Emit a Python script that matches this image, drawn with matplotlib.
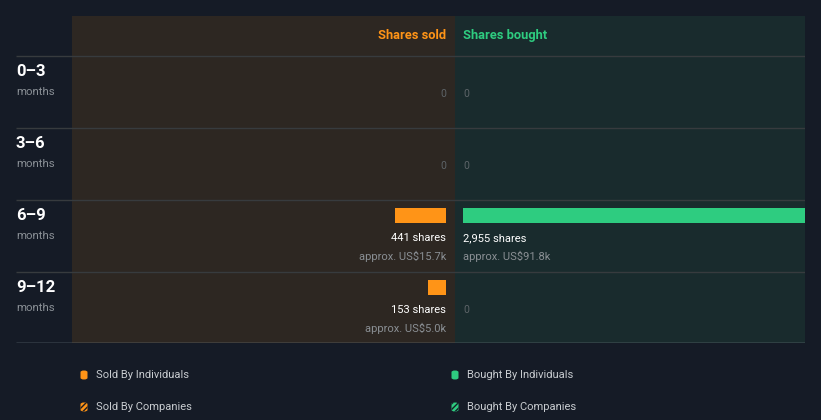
import matplotlib.pyplot as plt
import matplotlib.transforms as mtransforms
from matplotlib.patches import FancyBboxPatch

plt.rcParams['font.family'] = ['Roboto', 'DejaVu Sans']
plt.rcParams['hatch.linewidth'] = 1.0

# data
periods = ['0\u20133', '3\u20136', '6\u20139', '9\u201312']
sold = [0, 0, 441, 153]
bought = [0, 0, 2955, 0]
sold_value = ['', '', 'US$15.7k', 'US$5.0k']
bought_value = ['', '', 'US$91.8k', '']
legend_labels = ['Sold By Individuals', 'Bought By Individuals',
                 'Sold By Companies', 'Bought By Companies']

BG = '#151b26'
SOLD_BG = '#2d2722'
BOUGHT_BG = '#192b2d'
ORANGE = '#ff9417'
GREEN = '#2ecc80'
GRID = '#373b3e'

W, H = 821, 420
fig = plt.figure(figsize=(W / 100, H / 100), dpi=100, facecolor=BG)

def rect(x0, y0, x1, y1):
    return [x0 / W, 1 - y1 / H, (x1 - x0) / W, (y1 - y0) / H]

ylims = (3.986, -40 / 72)
px_scale = 2955 / 342  # shares per pixel

ax_s = fig.add_axes(rect(72, 16, 455, 343))
ax_b = fig.add_axes(rect(455, 16, 805, 343))
ax_s.set_facecolor(SOLD_BG)
ax_b.set_facecolor(BOUGHT_BG)
ax_s.set_xlim((446 - 72) * px_scale, -9 * px_scale)
ax_b.set_xlim(-8 * px_scale, 342 * px_scale)
for ax in (ax_s, ax_b):
    ax.set_ylim(*ylims)
    ax.set_xticks([])
    ax.set_yticks([])
    for sp in ax.spines.values():
        sp.set_visible(False)

ypos = [i + 15.5 / 72 for i in range(len(periods))]
ax_s.barh(ypos, sold, height=15 / 72, color=ORANGE, left=0)
ax_b.barh(ypos, bought, height=15 / 72, color=GREEN, left=0)

ax_s.text(0, -0.29, 'Shares sold', color=ORANGE, ha='right', va='center',
          fontsize=9.3, fontweight='bold')
ax_b.text(0, -0.29, 'Shares bought', color=GREEN, ha='left', va='center',
          fontsize=9.3, fontweight='bold')

for i in range(len(periods)):
    for ax, val, money, ha in ((ax_s, sold[i], sold_value[i], 'right'),
                               (ax_b, bought[i], bought_value[i], 'left')):
        if val == 0:
            ax.text(0, i + 0.53, '0', color='#5d6468', ha=ha, va='center', fontsize=7.5)
        else:
            ax.text(0, i + 0.53, f'{val:,} shares', color='white', ha=ha,
                    va='center', fontsize=8)
            ax.text(0, i + 0.78, f'approx. {money}', color='#8a8f94', ha=ha,
                    va='center', fontsize=8)

# row labels
tr = mtransforms.blended_transform_factory(fig.transFigure, ax_s.transData)
for i, p in enumerate(periods):
    fig.text(16 / W, i + 15 / 72, p, transform=tr, color='white', fontsize=12,
             fontweight='bold', va='center', ha='left')
    fig.text(16 / W, i + 36 / 72, 'months', transform=tr, color='#8a9096',
             fontsize=8.2, va='center', ha='left')

# separators
ax_l = fig.add_axes(rect(16, 16, 805, 343))
ax_l.set_ylim(*ylims)
ax_l.set_xlim(0, 1)
ax_l.axis('off')
ax_l.patch.set_alpha(0)
ax_l.hlines([0, 1, 2, 3], 0, 1, color=GRID, lw=1)
ax_l.hlines([3.986], 0, 1, color='#8a9a9f', lw=1)

# legend
leg_pos = [(84, 375), (455, 375), (84, 407), (455, 407)]
leg_col = [ORANGE, GREEN, ORANGE, GREEN]
for (x, y), lab, c, k in zip(leg_pos, legend_labels, leg_col, range(4)):
    if k < 2:
        patch = FancyBboxPatch(((x - 3.5) / W, 1 - (y + 4.5) / H), 7 / W, 9 / H,
                               boxstyle='round,pad=0,rounding_size=0.004',
                               transform=fig.transFigure, facecolor=c,
                               edgecolor='none')
    else:
        patch = FancyBboxPatch(((x - 3.5) / W, 1 - (y + 4.5) / H), 7 / W, 9 / H,
                               boxstyle='round,pad=0,rounding_size=0.004',
                               transform=fig.transFigure, facecolor=c,
                               edgecolor=BG, hatch='//////', lw=0)
    fig.add_artist(patch)
    fig.text((x + 12) / W, 1 - y / H, lab, color='#c8ccd0', fontsize=8,
             va='center', ha='left')

fig.savefig('out.png', dpi=100, facecolor=BG)
